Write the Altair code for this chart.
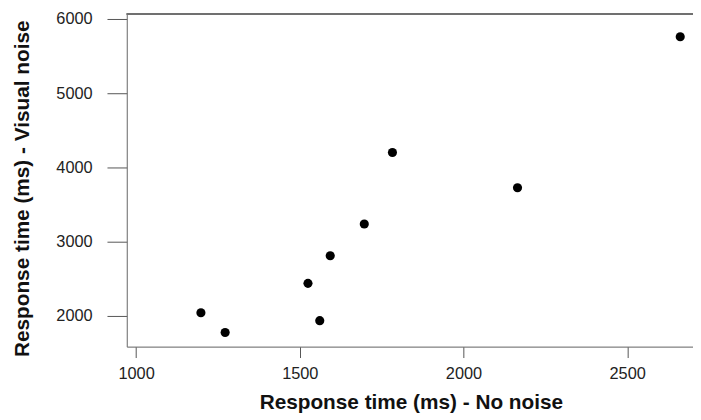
import altair as alt
import pandas as pd

no_noise = [1198, 1272, 1525, 1561, 1593, 1697, 1783, 2165, 2662]
visual_noise = [2040, 1773, 2436, 1933, 2809, 3236, 4200, 3725, 5760]
x_ticks = [1000, 1500, 2000, 2500]
y_ticks = [2000, 3000, 4000, 5000, 6000]

df = pd.DataFrame({"nn": no_noise, "vn": visual_noise})

W, H = 572, 336
FONT = "Liberation Sans"
BOX = "#707070"

points = alt.Chart(df).mark_circle(size=85, color="black", opacity=1).encode(
    x=alt.X("nn:Q", scale=alt.Scale(domain=[971.6, 2701], nice=False, zero=False),
            axis=alt.Axis(values=x_ticks, format="d", title="Response time (ms) - No noise",
                          grid=False, domainColor=BOX, tickColor="#555555",
                          tickSize=11, labelPadding=8, labelFontSize=16.5,
                          labelColor="#222222", labelFont=FONT,
                          titleFont=FONT, titleFontSize=21, titleFontWeight="bold",
                          titleColor="#111111", titleBaseline="middle",
                          titleAlign="center", titleX=287, titleY=57,
                          labelFlush=False)),
    y=alt.Y("vn:Q", scale=alt.Scale(domain=[1583, 6067], nice=False, zero=False),
            axis=alt.Axis(values=y_ticks, format="d", title="Response time (ms) - Visual noise",
                          grid=False, domainColor=BOX, tickColor="#555555",
                          tickSize=20, labelPadding=15, labelFontSize=16.5,
                          labelColor="#222222", labelFont=FONT, labelAngle=0,
                          titleFont=FONT, titleFontSize=21, titleFontWeight="bold",
                          titleColor="#111111", titleBaseline="middle",
                          titleAlign="center", titleAngle=270, titleX=-105, titleY=176,
                          labelFlush=False)),
)

top_line = alt.Chart(df).mark_rule(color=BOX, strokeWidth=1).encode(
    x=alt.value(0), x2=alt.value(W), y=alt.value(0)
)

chart = alt.layer(points, top_line).properties(
    width=W, height=H,
    autosize=alt.AutoSizeParams(type="none"),
    padding={"left": 120, "top": 4, "right": 0, "bottom": 70},
).configure_view(strokeWidth=0).configure(background="white")

chart.save("out.html", embed_options={"renderer": "svg", "actions": False})
